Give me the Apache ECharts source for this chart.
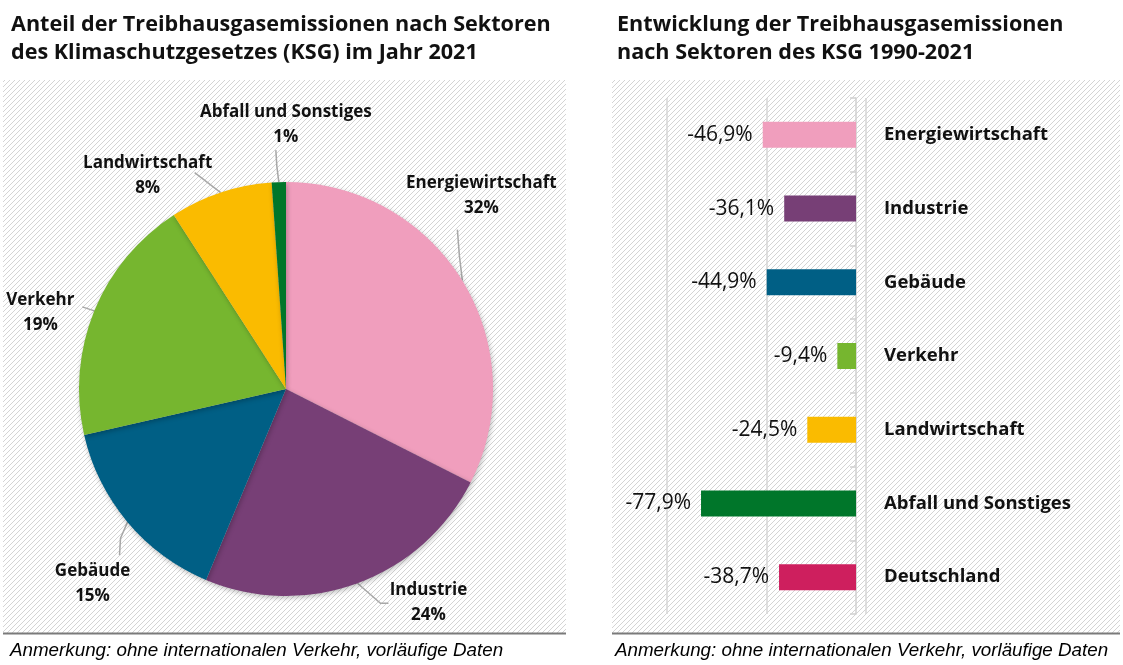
<!DOCTYPE html>
<html>
<head>
<meta charset="utf-8">
<script src="https://cdn.jsdelivr.net/npm/echarts@6/dist/echarts.min.js"></script>
<style>
html,body{margin:0;padding:0;background:#fff;}
#chart{width:1123px;height:665px;}
</style>
</head>
<body>
<div id="chart"></div>
<script>
// ---- data ----
const sectors = ['Energiewirtschaft', 'Industrie', 'Gebäude', 'Verkehr', 'Landwirtschaft', 'Abfall und Sonstiges'];
const share2021 = [32.4, 23.8, 15.1, 19.4, 8.0, 1.1];
const changeCategories = ['Energiewirtschaft', 'Industrie', 'Gebäude', 'Verkehr', 'Landwirtschaft', 'Abfall und Sonstiges', 'Deutschland'];
const change1990to2021 = [-46.9, -36.1, -44.9, -9.4, -24.5, -77.9, -38.7];
const leftTitle = 'Anteil der Treibhausgasemissionen nach Sektoren\ndes Klimaschutzgesetzes (KSG) im Jahr 2021';
const rightTitle = 'Entwicklung der Treibhausgasemissionen\nnach Sektoren des KSG 1990-2021';
const footnote = 'Anmerkung: ohne internationalen Verkehr, vorläufige Daten';

// ---- styles ----
const sectorColors = ['#F09EBD', '#773F76', '#005F85', '#76B62F', '#FABB00', '#00762A', '#CE1F5E'];
const FONT = 'Open Sans';
// label offsets relative to the slice's outer edge point: [textDx, textDy, lineEndDx, lineEndDy, bendDx, bendDy]
const pieLabelOffsets = [
  [19, -85, -5, -51, -3, -25],
  [71, 19, 31, 20, 23, 20],
  [-35, 61, -8, 33, -7, 16],
  [-54, 2, -12, -4, -6, -2],
  [-73, -17, -26, -20, -13, -10],
  [7, -57, -3, -32, -2, -16]
];

function hatch() {
  const s = 5;
  const c = document.createElement('canvas');
  c.width = s; c.height = s;
  const g = c.getContext('2d');
  g.fillStyle = '#ffffff';
  g.fillRect(0, 0, s, s);
  g.strokeStyle = '#d4d4d4';
  g.lineWidth = 1;
  g.beginPath();
  g.moveTo(-1, s + 1); g.lineTo(s + 1, -1);
  g.moveTo(-1, 1); g.lineTo(1, -1);
  g.moveTo(s - 1, s + 1); g.lineTo(s + 1, s - 1);
  g.stroke();
  return c;
}
const pattern = { image: hatch(), repeat: 'repeat' };

const chart = echarts.init(document.getElementById('chart'), null, { renderer: 'canvas' });

const option = {
  animation: false,
  backgroundColor: '#ffffff',
  textStyle: { fontFamily: FONT },
  title: [
    { text: leftTitle, left: 6, top: 6, textStyle: { fontFamily: FONT, fontWeight: 'bold', fontSize: 21.6, lineHeight: 28, color: '#111' } },
    { text: rightTitle, left: 612, top: 6, textStyle: { fontFamily: FONT, fontWeight: 'bold', fontSize: 21.6, lineHeight: 28, color: '#111' } }
  ],
  graphic: [
    { type: 'rect', z: -10, silent: true, shape: { x: 3, y: 80, width: 563, height: 553 }, style: { fill: pattern } },
    { type: 'rect', z: -10, silent: true, shape: { x: 612, y: 80, width: 508, height: 553 }, style: { fill: pattern } },
    { type: 'line', z: -5, silent: true, shape: { x1: 3, y1: 633.5, x2: 566, y2: 633.5 }, style: { stroke: '#7a7a7a', lineWidth: 2 } },
    { type: 'line', z: -5, silent: true, shape: { x1: 612, y1: 633.5, x2: 1120, y2: 633.5 }, style: { stroke: '#7a7a7a', lineWidth: 2 } },
    { type: 'text', z: 5, silent: true, style: { x: 10, y: 651, text: footnote, verticalAlign: 'middle', fontFamily: 'Liberation Sans, Arial', fontStyle: 'italic', fontSize: 18.8, fill: '#000' } },
    { type: 'text', z: 5, silent: true, style: { x: 615, y: 651, text: footnote, verticalAlign: 'middle', fontFamily: 'Liberation Sans, Arial', fontStyle: 'italic', fontSize: 18.8, fill: '#000' } }
  ],
  grid: { left: 667, right: 257, top: 98, bottom: 51, containLabel: false },
  xAxis: {
    type: 'value', min: -95, max: 5, interval: 50,
    axisLabel: { show: false }, axisTick: { show: false }, axisLine: { show: false },
    splitLine: { show: true, lineStyle: { color: '#d6d6d6', width: 1.5 } }
  },
  yAxis: [
    {
      type: 'category', data: changeCategories, inverse: true,
      axisLine: { show: true, onZero: true, lineStyle: { color: '#d0d0d0', width: 1.5 } },
      axisTick: { show: true, length: 6, lineStyle: { color: '#d0d0d0', width: 1.5 } },
      axisLabel: { show: false }, splitLine: { show: false }
    },
    {
      type: 'category', data: changeCategories, inverse: true, position: 'right',
      axisLine: { show: false }, axisTick: { show: false },
      axisLabel: { show: true, margin: 18, align: 'left', fontFamily: FONT, fontWeight: 'bold', fontSize: 18.5, color: '#111' }
    }
  ],
  series: [
    {
      type: 'pie',
      center: [286, 389],
      radius: 207,
      startAngle: 90,
      clockwise: true,
      avoidLabelOverlap: false,
      itemStyle: { shadowBlur: 5, shadowOffsetX: 1, shadowOffsetY: 2, shadowColor: 'rgba(0,0,0,0.25)' },
      label: {
        show: true, position: 'outside',
        formatter: p => p.name + '\n' + Math.round(p.value) + '%',
        fontFamily: FONT, fontWeight: 'bold', fontSize: 17, lineHeight: 25, color: '#111', align: 'center'
      },
      labelLine: { show: true, length: 20, length2: 10, lineStyle: { color: '#a8a8a8', width: 1.5 } },
      labelLayout: function (p) {
        const pts = p.labelLinePoints;
        if (!pts) return {};
        const e = pts[0];
        const o = pieLabelOffsets[p.dataIndex];
        return {
          x: e[0] + o[0], y: e[1] + o[1], align: 'center', verticalAlign: 'middle',
          labelLinePoints: [[e[0], e[1]], [e[0] + o[4], e[1] + o[5]], [e[0] + o[2], e[1] + o[3]]]
        };
      },
      emphasis: { disabled: true },
      data: sectors.map((n, i) => ({ name: n, value: share2021[i], itemStyle: { color: sectorColors[i] } }))
    },
    {
      type: 'bar',
      xAxisIndex: 0, yAxisIndex: 0,
      barWidth: 26,
      data: change1990to2021.map((v, i) => ({ value: v, itemStyle: { color: sectorColors[i] } })),
      label: {
        show: true, position: 'left', distance: 10,
        fontFamily: FONT, fontSize: 21, color: '#111',
        formatter: p => p.value.toFixed(1).replace('.', ',') + '%'
      },
      emphasis: { disabled: true }
    }
  ]
};
chart.setOption(option);
</script>
</body>
</html>
